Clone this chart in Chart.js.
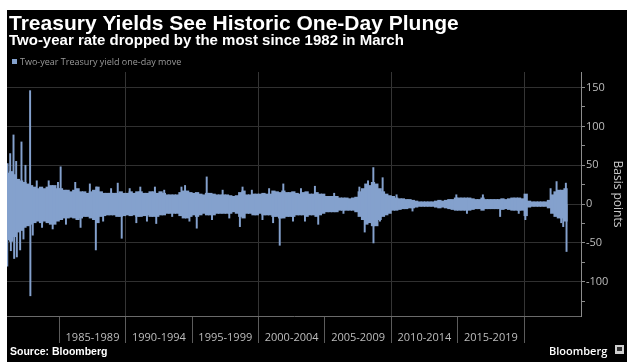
<!DOCTYPE html>
<html>
<head>
<meta charset="utf-8">
<script src="https://cdn.jsdelivr.net/npm/chart.js@4.4.1/dist/chart.umd.min.js"></script>
<style>
  html, body { margin: 0; padding: 0; background: #fff; }
  #frame { position: absolute; left: 7px; top: 10px; width: 620px; height: 352px; background: #000; }
  canvas { display: block; }
</style>
</head>
<body>
<div id="frame"><canvas id="chart" width="620" height="352"></canvas></div>
<script>
  // texts
  const chartTitle = "Treasury Yields See Historic One-Day Plunge";
  const chartSubtitle = "Two-year rate dropped by the most since 1982 in March";
  const seriesName = "Two-year Treasury yield one-day move";
  const sourceText = "Source: Bloomberg";

  // x axis: five-year period labels, separators every 5 years
  const periodLabels = ["1985-1989", "1990-1994", "1995-1999", "2000-2004", "2005-2009", "2010-2014", "2015-2019"];
  const separatorYears = [1985, 1990, 1995, 2000, 2005, 2010, 2015, 2020];
  const decadeYears = [1990, 2000, 2010, 2020];

  // quarterly envelope of the daily moves (bp), 1981 Q1 .. 2023 Q1
  const firstYear = 1981;
  const bandHigh = [
    40, 42, 38, 32,  30, 28, 26, 24,  22, 20, 22, 20,  22, 24, 24, 20,
    20, 18, 18, 16,  18, 20, 16, 16,  14, 16, 18, 22,  16, 14, 14, 14,
    14, 14, 16, 14,  14, 16, 14, 16,  16, 14, 14, 16,  16, 14, 16, 14,
    12, 12, 12, 12,  15, 17, 17, 15,  14, 15, 13, 12,  14, 14, 13, 12,
    12, 12, 12, 11,  10, 11, 15, 17,  12, 12, 13, 13,  13, 14, 13, 13,
    17, 16, 15, 17,  15, 15, 16, 14,  13, 15, 16, 13,  13, 15, 13, 13,
    10, 10, 10, 10,   8,  8,  8,  7,   8,  9, 16, 20,  26, 24, 28, 26,
    20, 16, 13, 11,  10,  8,  7,  7,   6,  6,  5,  4,   3,  3,  3,  3,
     3,  4,  5,  4,   5,  6,  6,  8,   8,  8,  8,  8,   7,  6,  6,  8,
     6,  6,  6,  6,   6,  7,  6,  7,   8,  8,  8,  7,  13,  4,  3,  3,
     3,  3,  3,  5,  12, 16, 18, 18,  20
  ];
  const bandLow = [
    -46, -48, -42, -36,  -34, -30, -28, -26,  -24, -22, -24, -22,  -24, -26, -26, -22,
    -20, -18, -18, -17,  -18, -20, -18, -16,  -16, -18, -20, -24,  -16, -15, -14, -14,
    -14, -16, -16, -15,  -14, -15, -14, -16,  -16, -15, -14, -16,  -16, -16, -14, -14,
    -12, -12, -12, -12,  -15, -18, -18, -16,  -14, -16, -14, -12,  -14, -14, -14, -12,
    -12, -12, -12, -12,  -10, -12, -16, -18,  -12, -12, -14, -14,  -12, -14, -14, -14,
    -16, -16, -18, -18,  -16, -16, -16, -14,  -14, -14, -16, -14,  -14, -16, -14, -12,
    -10, -10, -10, -10,   -8,  -8,  -8,  -8,   -8, -10, -16, -20,  -26, -24, -28, -28,
    -20, -16, -14, -12,   -8,  -8,  -7,  -6,   -6,  -5,  -5,  -4,   -3,  -3,  -3,  -3,
     -3,  -4,  -5,  -4,   -5,  -6,  -7,  -8,   -8,  -8,  -8,  -8,   -7,  -6,  -6,  -8,
     -6,  -6,  -6,  -6,   -6,  -7,  -6,  -7,   -8,  -8,  -8,  -8,  -15,  -4,  -3,  -3,
     -3,  -3,  -3,  -5,  -12, -16, -18, -18,  -22
  ];

  // single days that stick out of the band (year, bp)
  const spikeYears = [
    1981.08, 1981.1, 1981.3, 1981.35, 1981.55, 1981.6, 1981.75, 1981.8, 1982.05, 1982.15,
    1982.3, 1982.45, 1982.8, 1982.82, 1983.0, 1983.3, 1983.7, 1984.2, 1984.5, 1984.9,
    1985.1, 1985.5, 1986.2, 1986.6, 1987.3, 1987.75, 1987.8, 1988.3, 1988.9, 1989.4,
    1989.7, 1990.3, 1990.8, 1991.1, 1991.6, 1992.2, 1992.3, 1992.9, 1993.5, 1994.2,
    1994.47, 1994.8, 1995.35, 1996.1, 1996.5, 1997.3, 1997.8, 1998.6, 1998.8, 1999.5,
    2000.3, 2000.8, 2001.1, 2001.6, 2001.87, 2002.6, 2003.2, 2003.5, 2004.25, 2004.5,
    2005.7, 2006.4, 2007.6, 2008.0, 2008.25, 2008.65, 2008.66, 2009.15, 2009.35, 2010.4,
    2011.6, 2014.9, 2015.7, 2016.9, 2018.2, 2019.6, 2020.1, 2020.15, 2022.0, 2022.45,
    2022.8, 2022.95, 2023.15, 2023.2
  ];
  const spikeMoves = [
    -80, 52, 65, -60, 89, -70, 55, -68, -59, 80,
    -45, 50, 146, -118, -40, 30, -30, 30, -32, 28,
    48, -26, 28, -30, 26, -59, 22, -22, 20, 27,
    -44, 20, -24, 22, -22, 22, -25, 18, -16, 22,
    24, -22, -31, 35, -20, 18, -18, -29, 22, 18,
    -20, 20, -24, -53, 26, -22, 20, -22, 23, -26,
    14, -12, 22, -36, 30, 47, -50, -22, 34, 12,
    -9, 12, -12, 12, -16, -12, -20, 12, 20, 29,
    -24, -29, 27, -61
  ];

  const barColor = "#84a1cd";

  const bandPoints = bandHigh.map((hi, i) => ({ x: firstYear + (i + 0.5) / 4, y: [bandLow[i], hi] }));
  const spikePoints = spikeYears.map((yr, i) => ({ x: yr, y: spikeMoves[i] }));

  const textLayer = {
    id: "textLayer",
    afterDraw(chart) {
      const ctx = chart.ctx;
      ctx.save();
      ctx.textBaseline = "alphabetic";
      ctx.textAlign = "left";

      ctx.fillStyle = "#ffffff";
      ctx.font = "bold 21px 'Liberation Sans'";
      ctx.fillText(chartTitle, 2, 20);
      ctx.font = "bold 15px 'Liberation Sans'";
      ctx.fillText(chartSubtitle, 2, 35);

      ctx.fillStyle = barColor;
      ctx.fillRect(5, 49, 5, 5);
      ctx.fillStyle = "#9a9a9a";
      ctx.font = "9px 'Open Sans'";
      ctx.fillText(seriesName, 13, 55);

      ctx.fillStyle = "#ffffff";
      ctx.font = "bold 10.5px 'Liberation Sans'";
      ctx.fillText(sourceText, 3, 345);

      ctx.font = "600 11px 'Open Sans'";
      ctx.fillText("Bloomberg", 542, 345);
      ctx.fillStyle = "#d0d0d0";
      ctx.fillRect(608, 335, 9, 9);
      ctx.fillStyle = "#333";
      ctx.fillRect(610, 337, 5, 4);
      ctx.restore();
    }
  };

  new Chart(document.getElementById("chart"), {
    type: "bar",
    data: {
      datasets: [
        { data: bandPoints, backgroundColor: barColor, barThickness: 3.6, grouped: false, borderWidth: 0 },
        { data: spikePoints, backgroundColor: barColor, barThickness: 1.3, grouped: false, borderWidth: 0 }
      ]
    },
    options: {
      responsive: false,
      animation: false,
      layout: { padding: { top: 62, left: 0, right: 0, bottom: 0 } },
      plugins: { legend: { display: false }, tooltip: { enabled: false } },
      scales: {
        x: {
          type: "linear",
          min: 1981.06,
          max: 2024.29,
          offset: false,
          afterBuildTicks(scale) {
            const ticks = [];
            separatorYears.forEach((yr, i) => {
              ticks.push({ value: yr });
              if (i < periodLabels.length) ticks.push({ value: yr + 2.5 });
            });
            scale.ticks = ticks;
          },
          afterFit(scale) { scale.height = 46; },
          border: { color: "#6a6a6a" },
          grid: {
            offset: false,
            color: (c) => (c.tick && decadeYears.includes(c.tick.value) ? "#353535" : "rgba(0,0,0,0)"),
            tickColor: (c) => (c.tick && separatorYears.includes(c.tick.value) ? "#5c5c5c" : "rgba(0,0,0,0)"),
            tickLength: 27
          },
          ticks: {
            autoSkip: false,
            maxRotation: 0,
            padding: -12,
            color: "#bdbdbd",
            font: { family: "'Open Sans'", size: 11 },
            callback: (v) => {
              const i = periodLabels.findIndex((p, k) => separatorYears[k] + 2.5 === v);
              return i >= 0 ? periodLabels[i] : "";
            }
          }
        },
        y: {
          position: "right",
          min: -144,
          max: 170,
          afterFit(scale) { scale.width = 46; },
          border: { color: "#8c8c8c" },
          grid: {
            color: (c) => (c.tick && c.tick.value % 50 === 0 ? "#303030" : "rgba(0,0,0,0)"),
            tickColor: "#8c8c8c",
            tickLength: 4
          },
          ticks: {
            stepSize: 25,
            includeBounds: false,
            padding: 1,
            color: "#bdbdbd",
            font: { family: "'Open Sans'", size: 11 },
            callback: (v) => (v % 50 === 0 ? v : "")
          },
          title: {
            display: true,
            text: "Basis points",
            color: "#c8c8c8",
            font: { family: "'Open Sans'", size: 12 },
            padding: { top: 2, bottom: 0 }
          }
        }
      }
    },
    plugins: [textLayer]
  });
</script>
</body>
</html>
